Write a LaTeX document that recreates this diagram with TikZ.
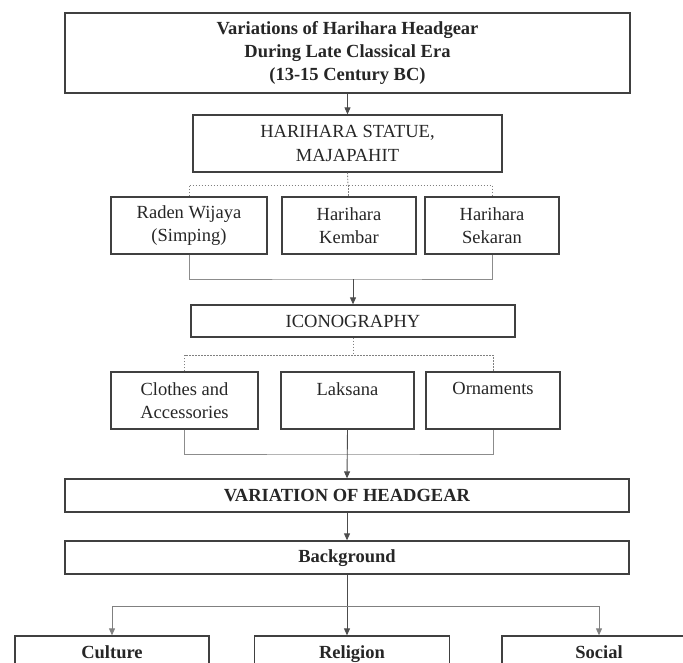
\documentclass[tikz,border=0pt]{standalone}
\usepackage{fontspec}
\setmainfont{Liberation Serif}
\usetikzlibrary{arrows.meta}

\begin{document}
\begin{tikzpicture}[x=1pt,y=-1pt,
  box/.style={draw=black!75,line width=1.3pt,text=black!85,align=center,inner sep=0pt,
    font=\fontsize{18.5}{23.5}\selectfont},
  boldbox/.style={box,font=\fontsize{18.5}{23}\selectfont\bfseries},
  dotline/.style={draw=black!50,line width=0.9pt,dash pattern=on 1.5pt off 1.5pt},
  joinline/.style={draw=black!45,line width=0.9pt},
  arrowline/.style={draw=black!70,line width=0.9pt,-{Triangle[width=6pt,length=7pt]}}]
  \useasboundingbox (0,0) rectangle (683,662);
  \clip (0,0) rectangle (683,662);
  % Title and statue
  \node[boldbox,minimum width=565pt,minimum height=80pt] (title) at (347.5,53)
    {\strut Variations of Harihara Headgear\\During Late Classical Era\\(13-15 Century BC)\strut};
  \node[box,minimum width=309pt,minimum height=57pt] (statue) at (347.5,143.5) {HARIHARA STATUE,\\MAJAPAHIT};
  \draw[arrowline] (title.south) -- (statue.north);
  % Row 1: statues
  \node[box,minimum width=156pt,minimum height=57pt] (raden) at (189,225.5) {Raden Wijaya\\(Simping)};
  \node[box,minimum width=134pt,minimum height=57pt] (kembar) at (349,225.5) {Harihara\\Kembar};
  \node[box,minimum width=134pt,minimum height=57pt] (sekaran) at (492,225.5) {Harihara\\Sekaran};
  \coordinate (fork1) at (348,185);
  \draw[dotline] (statue.south) -- (fork1);
  \draw[dotline] (raden.north) |- (fork1) -| (sekaran.north);
  \draw[dotline] (fork1) -- (fork1 |- kembar.north);
  % Iconography
  \node[box,minimum width=324pt,minimum height=32pt] (icono) at (353,321) {ICONOGRAPHY};
  \coordinate (join1) at (353,279);
  \draw[joinline] (raden.south) |- (join1) -| (sekaran.south);
  \draw[arrowline] (join1) -- (icono.north);
  % Row 2: aspects
  \node[box,minimum width=147pt,minimum height=57pt] (clothes) at (184.5,400.5) {Clothes and\\Accessories};
  \node[box,minimum width=133pt,minimum height=57pt] (laksana) at (347.5,400.5) {Laksana\\~};
  \node[box,minimum width=134pt,minimum height=57pt] (ornaments) at (493,400.5) {Ornaments\\~};
  \coordinate (fork2) at (353,355);
  \draw[dotline] (icono.south) -- (fork2);
  \draw[dotline] (clothes.north) |- (fork2) -| (ornaments.north);
  % Headgear and background
  \node[boldbox,minimum width=564pt,minimum height=33pt] (variation) at (347,495.5) {VARIATION OF HEADGEAR};
  \node[boldbox,minimum width=564pt,minimum height=33pt] (background) at (347,557.5) {Background\strut};
  \coordinate (join2) at (347.5,454);
  \draw[joinline] (clothes.south) |- (join2) -| (ornaments.south);
  \draw[arrowline] (laksana.south) -- (variation.north);
  \draw[arrowline] (variation.south) -- (background.north);
  % Row 3: factors
  \node[boldbox,minimum width=194pt,minimum height=36pt] (culture) at (112,654) {Culture\strut};
  \node[boldbox,minimum width=195pt,minimum height=36pt] (religion) at (352,654) {Religion\strut};
  \node[boldbox,minimum width=194pt,minimum height=36pt] (social) at (599,654) {Social\strut};
  \coordinate (join3) at (347,606);
  \draw[arrowline] (background.south) -- (background.south |- religion.north);
  \draw[arrowline,draw=black!50] (join3) -| (culture.north);
  \draw[arrowline,draw=black!50] (join3) -| (social.north);
\end{tikzpicture}
\end{document}
